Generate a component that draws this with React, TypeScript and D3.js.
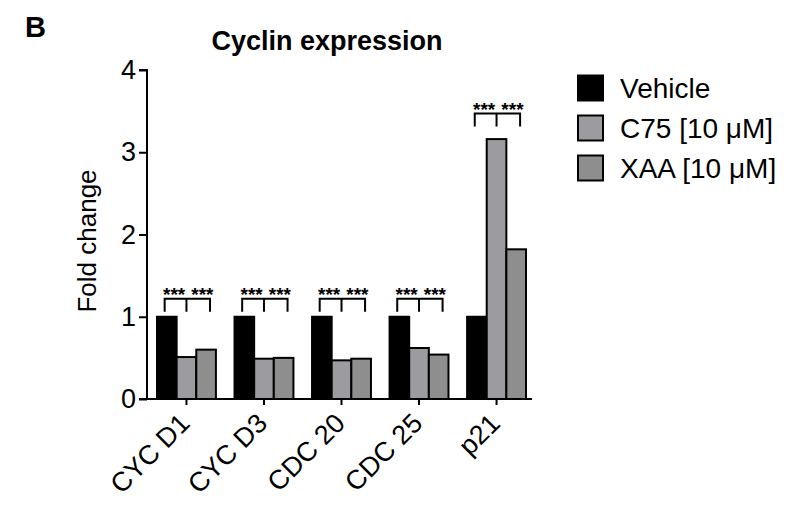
import React, { useRef, useEffect } from 'react';
import * as d3 from 'd3';

const categories = ['CYC D1', 'CYC D3', 'CDC 20', 'CDC 25', 'p21'];
const seriesNames = ['Vehicle', 'C75 [10 μM]', 'XAA [10 μM]'];
const vehicle = [1.0, 1.0, 1.0, 1.0, 1.0];
const c75 = [0.51, 0.49, 0.47, 0.62, 3.16];
const xaa = [0.6, 0.5, 0.49, 0.54, 1.82];
const yTicks = [0, 1, 2, 3, 4];
// significance bracket level (in fold-change units) and labels per group
const sigLevel = [1.22, 1.22, 1.22, 1.22, 3.47];
const sigLabels = ['***', '***'];

const colors = ['#000000', '#9c9ca0', '#8e8e8e'];
const FONT = 'Liberation Sans, Arial, Helvetica, sans-serif';

const App = () => {
  const svgRef = useRef(null);

  useEffect(() => {
    const svg = d3.select(svgRef.current);
    svg.selectAll('*').remove();

    const series = [vehicle, c75, xaa];

    const x = d3.scaleBand()
      .domain(categories)
      .range([147, 536])
      .paddingInner(0.24)
      .paddingOuter(0.129);

    const xSub = d3.scaleBand()
      .domain(seriesNames)
      .range([0, x.bandwidth()])
      .padding(0);

    const y = d3.scaleLinear()
      .domain([0, 4])
      .range([399, 70]);

    // bars
    categories.forEach((cat, i) => {
      const g = svg.append('g').attr('transform', `translate(${x(cat)},0)`);
      seriesNames.forEach((s, j) => {
        g.append('rect')
          .attr('x', xSub(s))
          .attr('y', y(series[j][i]))
          .attr('width', xSub.bandwidth())
          .attr('height', y(0) - y(series[j][i]))
          .attr('fill', colors[j])
          .attr('stroke', '#000')
          .attr('stroke-width', 2);
      });

      // significance bracket
      const by = y(sigLevel[i]);
      const bw = x.bandwidth();
      const legs = [0.13, 0.5, 0.9].map(f => x(cat) + bw * f);
      svg.append('path')
        .attr('d', `M${legs[0]},${by + 13}V${by}H${legs[2]}V${by + 13}M${legs[1]},${by}V${by + 13}`)
        .attr('fill', 'none')
        .attr('stroke', '#000')
        .attr('stroke-width', 2);
      [0.29, 0.77].forEach((f, k) => {
        svg.append('text')
          .attr('x', x(cat) + bw * f)
          .attr('y', by + 2)
          .attr('text-anchor', 'middle')
          .attr('font-family', FONT)
          .attr('font-size', 19)
          .attr('font-weight', 'bold')
          .text(sigLabels[k]);
      });
    });

    // y axis
    const yAxis = d3.axisLeft(y).tickValues(yTicks).tickSize(8).tickPadding(3).tickFormat(d3.format('d'));
    const ya = svg.append('g').attr('transform', 'translate(147,0)').call(yAxis);
    ya.select('.domain').attr('stroke-width', 2).attr('d', `M-8,${y(4)}H0V${y(0)}H-8`);
    ya.selectAll('.tick line').attr('stroke-width', 2);
    ya.selectAll('.tick text')
      .attr('font-family', FONT)
      .attr('font-size', 27)
      .attr('fill', '#000');

    // x axis
    const xAxis = d3.axisBottom(x).tickSize(6).tickFormat(() => '');
    const xa = svg.append('g').attr('transform', `translate(0,${y(0)})`).call(xAxis);
    xa.select('.domain').attr('stroke-width', 2).attr('d', 'M146,0H532');
    xa.selectAll('.tick line').attr('stroke-width', 2);

    categories.forEach(cat => {
      const cx = x(cat) + x.bandwidth() / 2;
      svg.append('text')
        .attr('transform', `translate(${cx + 5},${y(0) + 26}) rotate(-45)`)
        .attr('text-anchor', 'end')
        .attr('font-family', FONT)
        .attr('font-size', 27)
        .text(cat);
    });

    // y label
    svg.append('text')
      .attr('transform', 'translate(96,241) rotate(-90)')
      .attr('text-anchor', 'middle')
      .attr('font-family', FONT)
      .attr('font-size', 26)
      .text('Fold change');

    // title and panel letter
    svg.append('text')
      .attr('x', 327)
      .attr('y', 50)
      .attr('text-anchor', 'middle')
      .attr('font-family', FONT)
      .attr('font-size', 27)
      .attr('font-weight', 'bold')
      .text('Cyclin expression');

    svg.append('text')
      .attr('x', 25)
      .attr('y', 37)
      .attr('font-family', FONT)
      .attr('font-size', 29)
      .attr('font-weight', 'bold')
      .text('B');

    // legend
    const legend = svg.append('g').attr('transform', 'translate(578,88)');
    seriesNames.forEach((s, j) => {
      const row = legend.append('g').attr('transform', `translate(0,${j * 40})`);
      row.append('rect')
        .attr('x', 0)
        .attr('y', -12.5)
        .attr('width', 25)
        .attr('height', 25)
        .attr('fill', colors[j])
        .attr('stroke', '#000')
        .attr('stroke-width', 2);
      row.append('text')
        .attr('x', 42)
        .attr('y', 10)
        .attr('font-family', FONT)
        .attr('font-size', 28)
        .text(s);
    });
  }, []);

  return (
    <svg
      ref={svgRef}
      width={790}
      height={505}
      style={{ position: 'absolute', left: 0, top: 0, background: '#fff' }}
    />
  );
};

export default App;
